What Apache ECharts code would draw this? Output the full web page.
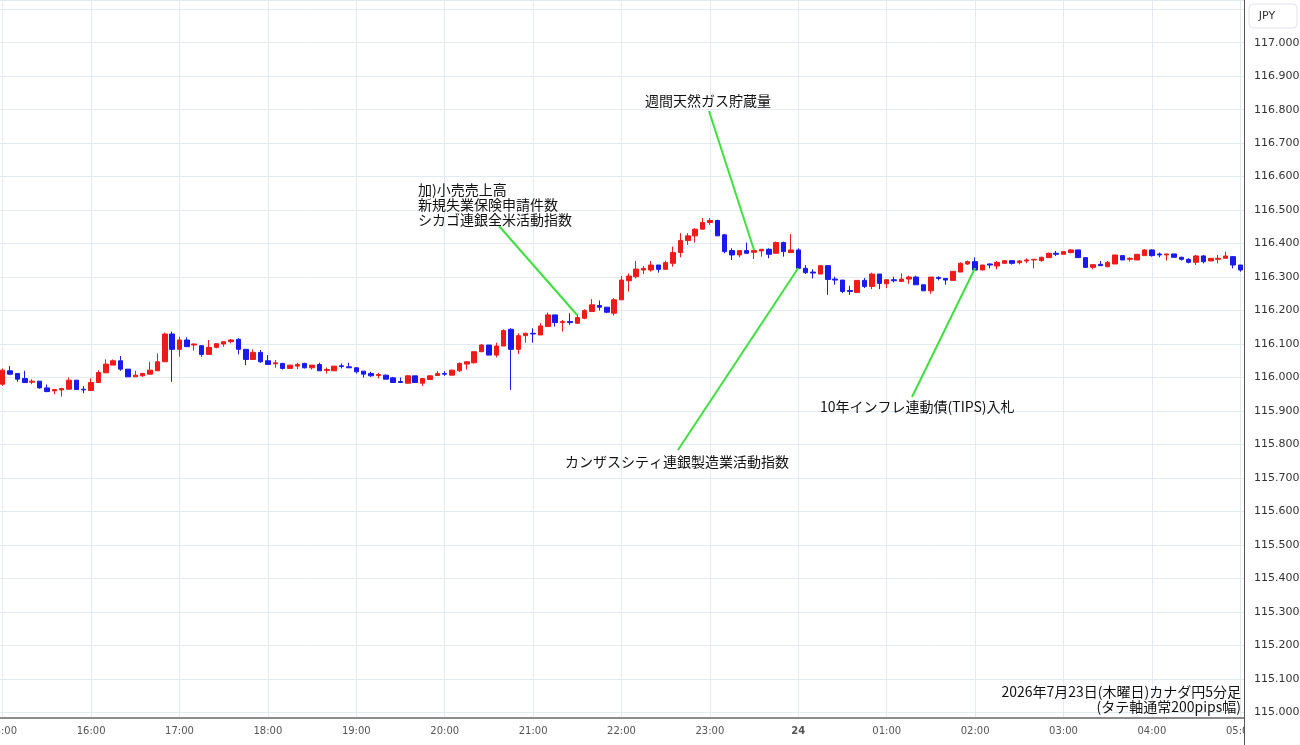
<!DOCTYPE html>
<html>
<head>
<meta charset="utf-8">
<script src="https://cdn.jsdelivr.net/npm/echarts@6/dist/echarts.min.js"></script>
<style>
  html, body { margin: 0; padding: 0; background: #fff; }
  #chart { width: 1300px; height: 745px; }
</style>
</head>
<body>
<div id="chart"></div>
<script>
// 5分足 15:00 ～ 05:00
const times = [];
for (let i = 0; i < 169; i++) {
  const m = 15 * 60 + 5 * i;
  const h = Math.floor(m / 60) % 24;
  times.push(String(h).padStart(2, "0") + ":" + String(m % 60).padStart(2, "0"));
}

const opens = [
  115.980, 116.020, 116.012, 115.997, 115.986, 115.989, 115.969, 115.960, 115.963, 115.965,
  115.992, 115.965, 115.961, 115.985, 116.014, 116.037, 116.050, 116.025, 116.002, 116.005,
  116.010, 116.020, 116.047, 116.130, 116.084, 116.112, 116.097, 116.095, 116.069, 116.090,
  116.100, 116.107, 116.114, 116.084, 116.054, 116.075, 116.050, 116.041, 116.042, 116.027,
  116.034, 116.042, 116.029, 116.039, 116.021, 116.020, 116.035, 116.032, 116.029, 116.019,
  116.012, 116.006, 116.007, 115.999, 115.988, 115.983, 116.005, 115.983, 115.994, 116.006,
  116.012, 116.007, 116.020, 116.040, 116.044, 116.077, 116.097, 116.067, 116.094, 116.144,
  116.084, 116.125, 116.132, 116.127, 116.152, 116.187, 116.164, 116.167, 116.162, 116.177,
  116.197, 116.215, 116.210, 116.192, 116.232, 116.289, 116.301, 116.321, 116.321, 116.336,
  116.323, 116.341, 116.373, 116.409, 116.423, 116.443, 116.463, 116.469, 116.426, 116.379,
  116.366, 116.379, 116.374, 116.378, 116.383, 116.371, 116.403, 116.373, 116.381, 116.326,
  116.315, 116.309, 116.334, 116.294, 116.291, 116.260, 116.254, 116.290, 116.272, 116.309,
  116.280, 116.292, 116.287, 116.294, 116.300, 116.277, 116.259, 116.299, 116.296, 116.290,
  116.315, 116.339, 116.346, 116.321, 116.339, 116.333, 116.341, 116.349, 116.343, 116.348,
  116.351, 116.349, 116.358, 116.371, 116.368, 116.373, 116.381, 116.358, 116.329, 116.338,
  116.331, 116.339, 116.364, 116.353, 116.351, 116.364, 116.381, 116.369, 116.366, 116.369,
  116.359, 116.353, 116.344, 116.363, 116.348, 116.353, 116.356, 116.361, 116.336
];
const closes = [
  116.022, 116.010, 115.995, 115.985, 115.989, 115.969, 115.958, 115.964, 115.967, 115.992,
  115.964, 115.963, 115.985, 116.015, 116.040, 116.050, 116.025, 116.002, 116.007, 116.012,
  116.022, 116.047, 116.130, 116.084, 116.112, 116.092, 116.100, 116.069, 116.090, 116.101,
  116.107, 116.112, 116.084, 116.054, 116.075, 116.047, 116.039, 116.044, 116.027, 116.037,
  116.039, 116.029, 116.037, 116.020, 116.024, 116.034, 116.033, 116.029, 116.017, 116.010,
  116.005, 116.009, 115.995, 115.985, 115.985, 116.005, 115.985, 115.997, 116.005, 116.012,
  116.010, 116.022, 116.042, 116.047, 116.077, 116.097, 116.067, 116.094, 116.140, 116.084,
  116.125, 116.132, 116.130, 116.154, 116.187, 116.164, 116.167, 116.164, 116.179, 116.200,
  116.217, 116.210, 116.195, 116.232, 116.291, 116.303, 116.324, 116.326, 116.336, 116.323,
  116.343, 116.373, 116.409, 116.423, 116.443, 116.463, 116.469, 116.423, 116.376, 116.366,
  116.379, 116.371, 116.379, 116.383, 116.368, 116.403, 116.376, 116.381, 116.326, 116.313,
  116.312, 116.334, 116.293, 116.291, 116.257, 116.257, 116.290, 116.272, 116.309, 116.281,
  116.292, 116.289, 116.294, 116.300, 116.277, 116.259, 116.300, 116.296, 116.291, 116.317,
  116.341, 116.346, 116.321, 116.336, 116.336, 116.344, 116.349, 116.341, 116.348, 116.351,
  116.353, 116.359, 116.371, 116.368, 116.376, 116.381, 116.358, 116.329, 116.337, 116.334,
  116.344, 116.366, 116.351, 116.356, 116.368, 116.381, 116.364, 116.366, 116.369, 116.359,
  116.353, 116.344, 116.363, 116.346, 116.356, 116.356, 116.363, 116.336, 116.321
];
const lows = [
  115.975, 116.007, 115.987, 115.985, 115.980, 115.967, 115.956, 115.950, 115.943, 115.965,
  115.964, 115.953, 115.961, 115.985, 116.014, 116.037, 116.020, 116.002, 116.002, 116.002,
  116.010, 116.020, 116.047, 115.987, 116.062, 116.092, 116.080, 116.062, 116.069, 116.087,
  116.092, 116.102, 116.069, 116.037, 116.054, 116.044, 116.039, 116.029, 116.024, 116.027,
  116.025, 116.027, 116.024, 116.020, 116.012, 116.020, 116.027, 116.029, 116.012, 116.000,
  116.002, 115.997, 115.995, 115.985, 115.985, 115.982, 115.985, 115.975, 115.994, 116.005,
  116.005, 116.007, 116.017, 116.024, 116.042, 116.077, 116.067, 116.060, 116.094, 115.963,
  116.070, 116.104, 116.104, 116.127, 116.152, 116.152, 116.137, 116.157, 116.160, 116.174,
  116.197, 116.200, 116.192, 116.185, 116.232, 116.257, 116.296, 116.309, 116.316, 116.313,
  116.323, 116.331, 116.359, 116.396, 116.403, 116.443, 116.456, 116.423, 116.371, 116.351,
  116.359, 116.369, 116.354, 116.361, 116.356, 116.371, 116.361, 116.373, 116.326, 116.309,
  116.296, 116.309, 116.247, 116.277, 116.252, 116.247, 116.254, 116.267, 116.264, 116.264,
  116.267, 116.284, 116.287, 116.280, 116.277, 116.259, 116.250, 116.290, 116.277, 116.290,
  116.315, 116.336, 116.321, 116.321, 116.326, 116.323, 116.341, 116.337, 116.338, 116.341,
  116.326, 116.346, 116.358, 116.363, 116.368, 116.371, 116.358, 116.329, 116.323, 116.334,
  116.329, 116.339, 116.351, 116.346, 116.351, 116.364, 116.361, 116.359, 116.349, 116.359,
  116.349, 116.341, 116.336, 116.341, 116.348, 116.341, 116.356, 116.326, 116.316
];
const highs = [
  116.027, 116.034, 116.012, 116.020, 115.995, 115.989, 115.979, 115.964, 115.969, 116.000,
  115.992, 115.974, 115.997, 116.022, 116.054, 116.054, 116.064, 116.025, 116.020, 116.014,
  116.047, 116.072, 116.134, 116.137, 116.122, 116.120, 116.102, 116.095, 116.112, 116.101,
  116.107, 116.115, 116.117, 116.084, 116.084, 116.082, 116.067, 116.052, 116.044, 116.037,
  116.044, 116.044, 116.037, 116.044, 116.030, 116.034, 116.042, 116.044, 116.031, 116.019,
  116.017, 116.014, 116.009, 116.002, 116.000, 116.007, 116.005, 115.997, 116.007, 116.019,
  116.019, 116.024, 116.045, 116.047, 116.077, 116.100, 116.097, 116.104, 116.144, 116.147,
  116.132, 116.134, 116.147, 116.162, 116.194, 116.187, 116.172, 116.192, 116.187, 116.204,
  116.234, 116.230, 116.210, 116.237, 116.303, 116.311, 116.348, 116.333, 116.348, 116.336,
  116.349, 116.391, 116.431, 116.431, 116.446, 116.476, 116.476, 116.471, 116.429, 116.386,
  116.379, 116.403, 116.383, 116.383, 116.386, 116.406, 116.406, 116.428, 116.386, 116.336,
  116.323, 116.336, 116.336, 116.301, 116.291, 116.274, 116.290, 116.297, 116.313, 116.309,
  116.292, 116.301, 116.311, 116.304, 116.304, 116.277, 116.300, 116.302, 116.296, 116.317,
  116.344, 116.349, 116.359, 116.336, 116.341, 116.348, 116.349, 116.349, 116.351, 116.356,
  116.353, 116.361, 116.373, 116.378, 116.376, 116.383, 116.381, 116.358, 116.337, 116.348,
  116.348, 116.366, 116.364, 116.359, 116.368, 116.383, 116.383, 116.373, 116.369, 116.369,
  116.361, 116.356, 116.366, 116.366, 116.356, 116.366, 116.376, 116.363, 116.336
];

// 指標発表の注記 (時刻, 価格)
const noteTimes = ["21:30", "23:30", "00:00", "02:00"];
const noteValues = [116.186, 116.380, 116.327, 116.327];

const UP = "#f01a1a";
const DOWN = "#1a1af0";
const GRID = "#e3eaf2";
const FONT = "'Noto Sans CJK JP', 'Noto Sans', sans-serif";

const candles = opens.map((o, i) => [o, closes[i], lows[i], highs[i]]);
const isHour = (idx, v) => v.endsWith(":00");

const chart = echarts.init(document.getElementById("chart"));
const option = {
  animation: false,
  backgroundColor: "#fff",
  grid: { left: -1, right: 56, top: 0, bottom: 27, containLabel: false, outerBoundsMode: "none" },
  xAxis: {
    type: "category",
    data: times,
    boundaryGap: true,
    axisLine: { lineStyle: { color: "#8c8c8c", width: 2 } },
    axisTick: { show: false },
    axisLabel: {
      interval: isHour,
      margin: 8,
      color: "#555",
      fontSize: 10,
      fontFamily: "'DejaVu Sans', sans-serif",
      formatter: (v) => (v === "00:00" ? "{b|24}" : v),
      rich: { b: { fontWeight: "bold", color: "#555", fontSize: 10, fontFamily: "'DejaVu Sans', sans-serif" } },
    },
    splitLine: { show: true, interval: isHour, alignWithLabel: true, lineStyle: { color: GRID } },
  },
  yAxis: {
    type: "value",
    position: "right",
    min: 114.983,
    max: 117.1275,
    minInterval: 0.1,
    maxInterval: 0.1,
    axisLine: { show: true, lineStyle: { color: "#555" } },
    axisTick: { show: false },
    axisLabel: {
      margin: 10,
      color: "#333",
      fontSize: 11,
      fontFamily: "'DejaVu Sans', sans-serif",
      formatter: (v) => (Math.abs(v * 10 - Math.round(v * 10)) < 1e-6 && v <= 117.0001 ? v.toFixed(3) : ""),
    },
    splitLine: { show: true, lineStyle: { color: GRID } },
  },
  series: [
    {
      type: "candlestick",
      data: candles,
      barWidth: 5,
      itemStyle: { color: UP, color0: DOWN, borderColor: UP, borderColor0: DOWN, borderWidth: 1 },
      markLine: {
        silent: true,
        symbol: ["none", "none"],
        label: { show: false },
        lineStyle: { color: "#3ee03e", width: 2, type: "solid" },
        data: [
          [{ x: 499, y: 226 }, { coord: [noteTimes[0], noteValues[0]] }],
          [{ x: 709, y: 111 }, { coord: [noteTimes[1], noteValues[1]] }],
          [{ x: 678, y: 450 }, { coord: [noteTimes[2], noteValues[2]] }],
          [{ x: 912, y: 397 }, { coord: [noteTimes[3], noteValues[3]] }],
        ],
      },
    },
  ],
  graphic: [
    { type: "rect", z: 100, shape: { x: 1245, y: 719, width: 60, height: 30 }, style: { fill: "#fff" } },
    { type: "line", z: 101, shape: { x1: 1244.5, y1: 0, x2: 1244.5, y2: 745 }, style: { stroke: "#555", lineWidth: 1 } },
    { type: "rect", z: 101, shape: { x: 1249, y: 4, width: 48, height: 24, r: 4 }, style: { fill: "#fff", stroke: "#e0e3eb" } },
    { type: "text", z: 102, style: { x: 1267, y: 16, text: "JPY", fill: "#333", font: "11px 'DejaVu Sans', sans-serif", textAlign: "center", textVerticalAlign: "middle" } },
    { type: "text", z: 102, style: { x: 418, y: 182, text: "加)小売売上高\n新規失業保険申請件数\nシカゴ連銀全米活動指数", fill: "#111", font: "14px " + FONT, lineHeight: 15 } },
    { type: "text", z: 102, style: { x: 645, y: 94, text: "週間天然ガス貯蔵量", fill: "#111", font: "14px " + FONT } },
    { type: "text", z: 102, style: { x: 565, y: 455, text: "カンザスシティ連銀製造業活動指数", fill: "#111", font: "14px " + FONT } },
    { type: "text", z: 102, style: { x: 820, y: 400, text: "10年インフレ連動債(TIPS)入札", fill: "#111", font: "14px " + FONT } },
    { type: "text", z: 102, style: { x: 1241, y: 685, text: "2026年7月23日(木曜日)カナダ円5分足", fill: "#111", font: "14px " + FONT, textAlign: "right" } },
    { type: "text", z: 102, style: { x: 1241, y: 700, text: "(タテ軸通常200pips幅)", fill: "#111", font: "14px " + FONT, textAlign: "right" } },
  ],
};
chart.setOption(option);
</script>
</body>
</html>
